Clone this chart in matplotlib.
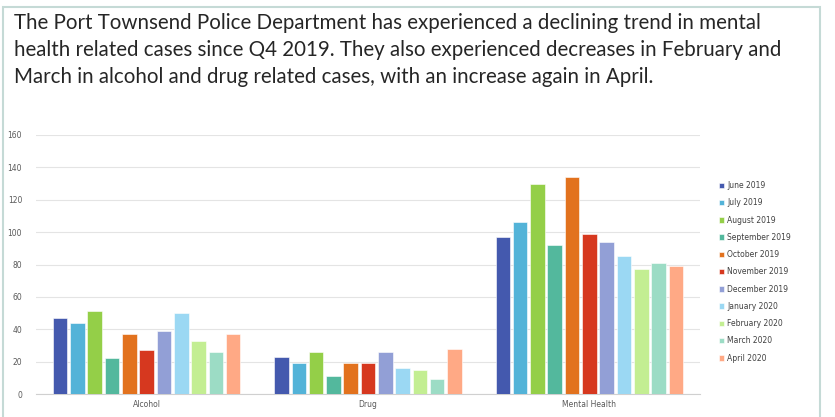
import matplotlib.pyplot as plt
from matplotlib.patches import Rectangle
import numpy as np

categories = ['Alcohol', 'Drug', 'Mental Health']
months = ['June 2019', 'July 2019', 'August 2019', 'September 2019', 'October 2019',
          'November 2019', 'December 2019', 'January 2020', 'February 2020',
          'March 2020', 'April 2020']

alcohol = [47, 44, 51, 22, 37, 27, 39, 50, 33, 26, 37]
drug = [23, 19, 26, 11, 19, 19, 26, 16, 15, 9, 28]
mental = [97, 106, 130, 92, 134, 99, 94, 85, 77, 81, 79]

colors = ['#4459ae', '#53b3d8', '#94cf48', '#53b89d', '#e2721e', '#d6381f',
          '#929fd6', '#9bd8f3', '#c3ee92', '#9cdcc5', '#ffa985']

title = ('The Port Townsend Police Department has experienced a declining trend in mental\n'
         'health related cases since Q4 2019. They also experienced decreases in February and\n'
         'March in alcohol and drug related cases, with an increase again in April.')

fig = plt.figure(figsize=(8.35, 4.17), dpi=100)

# outer frame
fig.patches.append(Rectangle((3 / 835, -0.05), 817 / 835, 1.05 - 7 / 417,
                             transform=fig.transFigure, fill=False,
                             edgecolor='#c5dad6', linewidth=1.5))

fig.text(14 / 835, 1 - 13 / 417, title, ha='left', va='top', fontsize=14.8,
         family='Lato', color='#262626', linespacing=1.43)

ax = fig.add_axes([36 / 835, 1 - 394 / 417, 664 / 835, 259 / 417])

values = np.array([alcohol, drug, mental])
x = np.arange(len(categories))
n = len(months)
group = 0.86
w = group / n
for i, m in enumerate(months):
    ax.bar(x - group / 2 + w * (i + 0.5), values[:, i], width=w * 0.84, color=colors[i],
           edgecolor='white', linewidth=0.4, label=m, zorder=3)

ax.set_xlim(-0.5, 2.5)
ax.set_ylim(0, 160)
ax.set_yticks(range(0, 161, 20))
ax.set_xticks(x)
ax.set_xticklabels(categories)
ax.tick_params(length=0, labelsize=5.5, labelcolor='#595959', pad=4)
ax.tick_params(axis='y', pad=10)
ax.grid(axis='y', color='#e4e4e4', linewidth=0.8, zorder=0)
for s in ['top', 'right', 'left']:
    ax.spines[s].set_visible(False)
ax.spines['bottom'].set_color('#d0d0d0')
ax.spines['bottom'].set_linewidth(0.8)

ax.legend(loc='upper left', bbox_to_anchor=(716 / 835, 1 - 178 / 417),
          bbox_transform=fig.transFigure, frameon=False, fontsize=5.5,
          handlelength=0.7, handleheight=0.7, handletextpad=0.4,
          labelspacing=1.08, labelcolor='#404040', borderaxespad=0)

fig.savefig('out.png', dpi=100)
